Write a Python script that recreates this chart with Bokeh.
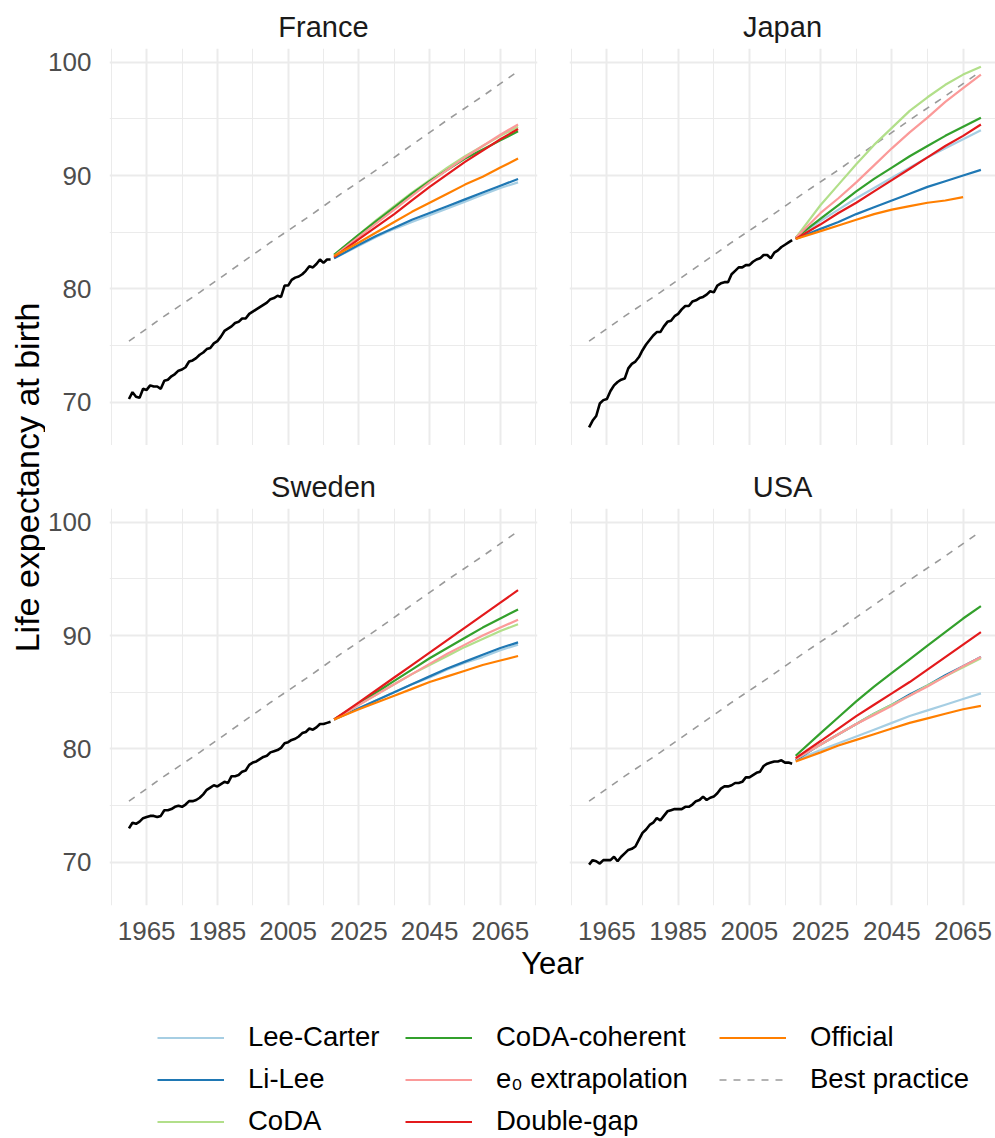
import math
from bokeh.plotting import figure
from bokeh.models import Range1d, FixedTicker, Label, Legend, LegendItem
from bokeh.layouts import row, column
from bokeh.embed import file_html
from bokeh.resources import INLINE

FONT = "Liberation Sans"

# ---------------- data ----------------
methods = ["Lee-Carter", "Li-Lee", "CoDA", "CoDA-coherent",
           "e\u2080 extrapolation", "Double-gap", "Official"]
method_colors = ["#A6CEE3", "#1F78B4", "#B2DF8A", "#33A02C",
                 "#FB9A99", "#E31A1C", "#FF7F00"]

hist_years = list(range(1960, 2018))

france_hist = [70.3, 70.9, 70.5, 70.4, 71.2, 71.1, 71.5, 71.4, 71.4, 71.2,
               71.9, 72.0, 72.3, 72.5, 72.8, 72.9, 73.1, 73.6, 73.7, 73.9,
               74.2, 74.4, 74.7, 74.8, 75.2, 75.4, 75.8, 76.3, 76.5, 76.7,
               77.0, 77.1, 77.4, 77.4, 77.8, 78.0, 78.2, 78.4, 78.6, 78.8,
               79.1, 79.2, 79.4, 79.3, 80.3, 80.3, 80.8, 81.0, 81.1, 81.3,
               81.6, 82.0, 81.9, 82.2, 82.6, 82.3, 82.6, 82.6]
japan_hist = [67.8, 68.4, 68.8, 69.9, 70.2, 70.3, 71.0, 71.5, 71.8, 72.0,
              72.1, 73.0, 73.4, 73.6, 74.0, 74.6, 75.1, 75.5, 75.9, 76.2,
              76.2, 76.7, 77.1, 77.2, 77.6, 77.8, 78.2, 78.5, 78.5, 78.9,
              79.0, 79.2, 79.3, 79.5, 79.8, 79.7, 80.3, 80.5, 80.6, 80.6,
              81.3, 81.6, 81.9, 81.9, 82.1, 82.1, 82.4, 82.6, 82.7, 83.0,
              83.0, 82.7, 83.2, 83.4, 83.7, 83.9, 84.1, 84.3]
sweden_hist = [73.0, 73.5, 73.4, 73.6, 73.9, 74.0, 74.1, 74.1, 74.0, 74.1,
               74.6, 74.6, 74.7, 74.9, 75.0, 74.9, 75.1, 75.4, 75.4, 75.5,
               75.7, 76.0, 76.4, 76.6, 76.8, 76.7, 76.9, 77.1, 77.0, 77.6,
               77.6, 77.7, 78.0, 78.1, 78.6, 78.8, 78.9, 79.1, 79.3, 79.4,
               79.7, 79.8, 79.9, 80.1, 80.5, 80.6, 80.8, 80.9, 81.1, 81.4,
               81.5, 81.8, 81.7, 81.9, 82.2, 82.2, 82.3, 82.4]
usa_hist = [69.8, 70.2, 70.1, 69.9, 70.2, 70.2, 70.2, 70.5, 70.1, 70.5,
            70.8, 71.1, 71.2, 71.4, 72.0, 72.6, 72.9, 73.3, 73.5, 73.9,
            73.7, 74.1, 74.5, 74.6, 74.7, 74.7, 74.7, 74.9, 74.9, 75.1,
            75.4, 75.5, 75.8, 75.5, 75.7, 75.8, 76.1, 76.5, 76.7, 76.7,
            76.8, 77.0, 77.0, 77.1, 77.5, 77.5, 77.7, 77.9, 78.0, 78.5,
            78.7, 78.8, 78.9, 78.9, 79.0, 78.8, 78.8, 78.7]

fc_years = [2018, 2025, 2030, 2035, 2040, 2045, 2050, 2055, 2060, 2065, 2070]
japan_official_years = [2018, 2025, 2030, 2035, 2040, 2045, 2050, 2055, 2060, 2065]

france_fc = {
    "Lee-Carter":        [82.7, 83.8, 84.6, 85.3, 85.9, 86.5, 87.1, 87.7, 88.3, 88.9, 89.4],
    "Li-Lee":            [82.7, 83.9, 84.7, 85.4, 86.1, 86.7, 87.3, 87.9, 88.5, 89.1, 89.7],
    "CoDA":              [83.0, 84.8, 86.1, 87.3, 88.5, 89.6, 90.7, 91.7, 92.6, 93.5, 94.3],
    "CoDA-coherent":     [83.0, 84.8, 86.0, 87.2, 88.4, 89.5, 90.5, 91.5, 92.3, 93.1, 93.9],
    "e\u2080 extrapolation": [82.9, 84.6, 85.8, 87.0, 88.2, 89.4, 90.5, 91.6, 92.6, 93.6, 94.5],
    "Double-gap":        [82.8, 84.4, 85.5, 86.6, 87.8, 89.0, 90.1, 91.2, 92.2, 93.2, 94.1],
    "Official":          [82.9, 84.1, 85.0, 85.9, 86.8, 87.6, 88.4, 89.2, 89.9, 90.7, 91.5],
}
japan_fc = {
    "Lee-Carter":        [84.5, 86.0, 87.0, 88.0, 88.9, 89.8, 90.7, 91.6, 92.4, 93.2, 94.0],
    "Li-Lee":            [84.4, 85.3, 85.9, 86.6, 87.2, 87.8, 88.4, 89.0, 89.5, 90.0, 90.5],
    "CoDA":              [84.5, 87.4, 89.2, 91.0, 92.7, 94.2, 95.7, 96.9, 98.0, 98.9, 99.6],
    "CoDA-coherent":     [84.5, 86.2, 87.4, 88.6, 89.7, 90.7, 91.7, 92.6, 93.5, 94.3, 95.1],
    "e\u2080 extrapolation": [84.5, 86.7, 88.0, 89.4, 90.9, 92.4, 93.8, 95.1, 96.5, 97.7, 98.9],
    "Double-gap":        [84.4, 85.7, 86.7, 87.6, 88.6, 89.6, 90.6, 91.6, 92.6, 93.5, 94.5],
    "Official":          [84.4, 85.1, 85.6, 86.1, 86.6, 87.0, 87.3, 87.6, 87.8, 88.1],
}
sweden_fc = {
    "Lee-Carter":        [82.6, 83.6, 84.3, 85.0, 85.7, 86.3, 87.0, 87.6, 88.1, 88.7, 89.2],
    "Li-Lee":            [82.6, 83.6, 84.3, 85.0, 85.7, 86.4, 87.1, 87.7, 88.3, 88.9, 89.4],
    "CoDA":              [82.6, 83.9, 84.8, 85.7, 86.6, 87.4, 88.2, 89.0, 89.7, 90.4, 91.0],
    "CoDA-coherent":     [82.6, 84.0, 85.0, 86.0, 87.0, 88.0, 88.9, 89.8, 90.7, 91.5, 92.3],
    "e\u2080 extrapolation": [82.6, 83.9, 84.8, 85.7, 86.6, 87.5, 88.4, 89.2, 90.0, 90.7, 91.4],
    "Double-gap":        [82.6, 84.1, 85.2, 86.3, 87.4, 88.5, 89.6, 90.7, 91.8, 92.9, 94.0],
    "Official":          [82.6, 83.5, 84.1, 84.7, 85.3, 85.9, 86.4, 86.9, 87.4, 87.8, 88.2],
}
usa_fc = {
    "Lee-Carter":        [79.0, 79.9, 80.5, 81.1, 81.7, 82.3, 82.9, 83.4, 83.9, 84.4, 84.9],
    "Li-Lee":            [79.0, 80.4, 81.3, 82.2, 83.1, 83.9, 84.8, 85.6, 86.5, 87.3, 88.1],
    "CoDA":              [79.1, 80.4, 81.3, 82.2, 83.1, 83.9, 84.7, 85.6, 86.4, 87.2, 88.0],
    "CoDA-coherent":     [79.4, 81.4, 82.8, 84.2, 85.5, 86.7, 87.9, 89.1, 90.3, 91.5, 92.6],
    "e\u2080 extrapolation": [79.1, 80.4, 81.3, 82.2, 83.0, 83.8, 84.7, 85.5, 86.4, 87.3, 88.1],
    "Double-gap":        [79.2, 80.7, 81.8, 82.9, 83.9, 84.9, 85.9, 87.0, 88.1, 89.2, 90.3],
    "Official":          [78.9, 79.7, 80.3, 80.8, 81.3, 81.8, 82.3, 82.7, 83.1, 83.5, 83.8],
}

bp_years = [1960, 1970, 1980, 1990, 2000, 2010, 2020, 2030, 2040, 2050, 2060, 2070]
bp_values = [75.4, 77.6, 79.7, 81.9, 84.1, 86.2, 88.4, 90.5, 92.7, 94.9, 97.0, 99.2]

x_major = [1965, 1985, 2005, 2025, 2045, 2065]
x_minor = [1955, 1975, 1995, 2015, 2035, 2055, 2075]
y_major = [70, 80, 90, 100]
y_minor = [65, 75, 85, 95]

# ---------------- styling helpers ----------------
GRID = "#EBEBEB"
TICK_COL = "#4D4D4D"
BP_COL = "#9A9A9A"


def make_panel(name, hist, fc, x_end, width, height, left, right, top, bottom,
               show_x, show_y, official_years=None):
    p = figure(width=width, height=height,
               x_range=Range1d(1954.5, x_end), y_range=Range1d(66.2, 101.2),
               min_border_left=left, min_border_right=right,
               min_border_top=top, min_border_bottom=bottom,
               output_backend="svg", toolbar_location=None)
    p.outline_line_color = None
    p.background_fill_color = "white"
    p.border_fill_color = "white"
    p.title.text = name
    p.title.align = "center"
    p.title.text_font = FONT
    p.title.text_font_size = "29px"
    p.title.text_font_style = "normal"
    p.title.text_color = "#1A1A1A"
    p.title.standoff = 12

    xt = FixedTicker(ticks=x_major, minor_ticks=x_minor)
    yt = FixedTicker(ticks=y_major, minor_ticks=y_minor)
    p.xaxis.ticker = xt
    p.yaxis.ticker = yt
    p.xgrid.ticker = xt
    p.ygrid.ticker = yt
    for g in (p.xgrid, p.ygrid):
        g.grid_line_color = GRID
        g.grid_line_width = 2
        g.minor_grid_line_color = GRID
        g.minor_grid_line_width = 1
    for ax in (p.xaxis, p.yaxis):
        ax.axis_line_color = None
        ax.major_tick_line_color = None
        ax.minor_tick_line_color = None
        ax.major_label_text_font = FONT
        ax.major_label_text_font_size = "26px"
        ax.major_label_text_color = TICK_COL
    p.xaxis.major_label_standoff = 10
    p.yaxis.major_label_standoff = 12
    p.xaxis.visible = show_x
    p.yaxis.visible = show_y

    p.line(bp_years, bp_values, line_color=BP_COL, line_width=1.6, line_dash="7 7")
    p.line(hist_years, hist, line_color="black", line_width=2.6)
    for m, c in zip(methods, method_colors):
        yrs = fc_years
        if m == "Official" and official_years is not None:
            yrs = official_years
        p.line(yrs, fc[m], line_color=c, line_width=2.2)
    return p


PANEL_W = 431
RIGHT_W = 426
x_end_left = 2075.5
x_end_right = 1954.5 + RIGHT_W * (121.0 / PANEL_W)

tl = make_panel("France", france_hist, france_fc, x_end_left, 524, 445, 61, 32, 48, 0, False, True)
tr = make_panel("Japan", japan_hist, japan_fc, x_end_right, 426, 445, 0, 0, 48, 0, False, False,
                official_years=japan_official_years)
bl = make_panel("Sweden", sweden_hist, sweden_fc, x_end_left, 524, 502, 61, 32, 63, 42, True, True)
br = make_panel("USA", usa_hist, usa_fc, x_end_right, 426, 502, 0, 0, 63, 42, True, False)

# y-axis title strip
yt_fig = figure(width=45, height=947, x_range=Range1d(0, 45), y_range=Range1d(0, 947),
                x_axis_location=None, y_axis_location=None, min_border=0,
                output_backend="svg", toolbar_location=None)
yt_fig.outline_line_color = None
yt_fig.grid.visible = False
yt_fig.add_layout(Label(x=26, y=947 - 477, text="Life expectancy at birth",
                        angle=math.pi / 2, text_align="center", text_baseline="middle",
                        text_font=FONT, text_font_size="34px", text_color="black"))

# bottom strip: x title + legend
BH = 191
bot = figure(width=995, height=BH, x_range=Range1d(0, 995), y_range=Range1d(0, BH),
             x_axis_location=None, y_axis_location=None, min_border=0,
             output_backend="svg", toolbar_location=None)
bot.outline_line_color = None
bot.grid.visible = False
bot.add_layout(Label(x=552, y=BH - 16, text="Year", text_align="center",
                     text_baseline="middle", text_font=FONT, text_font_size="31px",
                     text_color="black"))

legend_names = methods + ["Best practice"]
legend_colors = method_colors + [BP_COL]
items = []
for nm, c in zip(legend_names, legend_colors):
    # key-only renderers: their single point lies outside the visible range
    if nm == "Best practice":
        r = bot.line([-50, -40], [-50, -50], line_color=c, line_width=1.6, line_dash="7 7")
    else:
        r = bot.line([-50, -40], [-50, -50], line_color=c, line_width=2.2)
    items.append(LegendItem(label=nm, renderers=[r]))

ROW_H = 31.5
SPACING = 10
TOP_FROM_TOP = 1038 - 947 - ROW_H / 2
col_groups = [items[0:3], items[3:6], items[6:8]]
col_x = [157, 405, 719]
for grp, x0 in zip(col_groups, col_x):
    n = len(grp)
    h = n * ROW_H + (n - 1) * SPACING
    y0 = BH - TOP_FROM_TOP - h
    lg = Legend(items=grp, location=(x0, round(y0)), orientation="vertical",
                border_line_color=None, background_fill_alpha=0,
                padding=0, margin=0, spacing=SPACING,
                glyph_width=67, glyph_height=27, label_height=27,
                label_standoff=24, label_text_font=FONT,
                label_text_font_size="27.5px", label_text_color="black")
    bot.add_layout(lg, "center")

layout = column(
    row(yt_fig, column(row(tl, tr), row(bl, br))),
    bot,
)

open("out.html", "w").write(file_html(layout, INLINE))
